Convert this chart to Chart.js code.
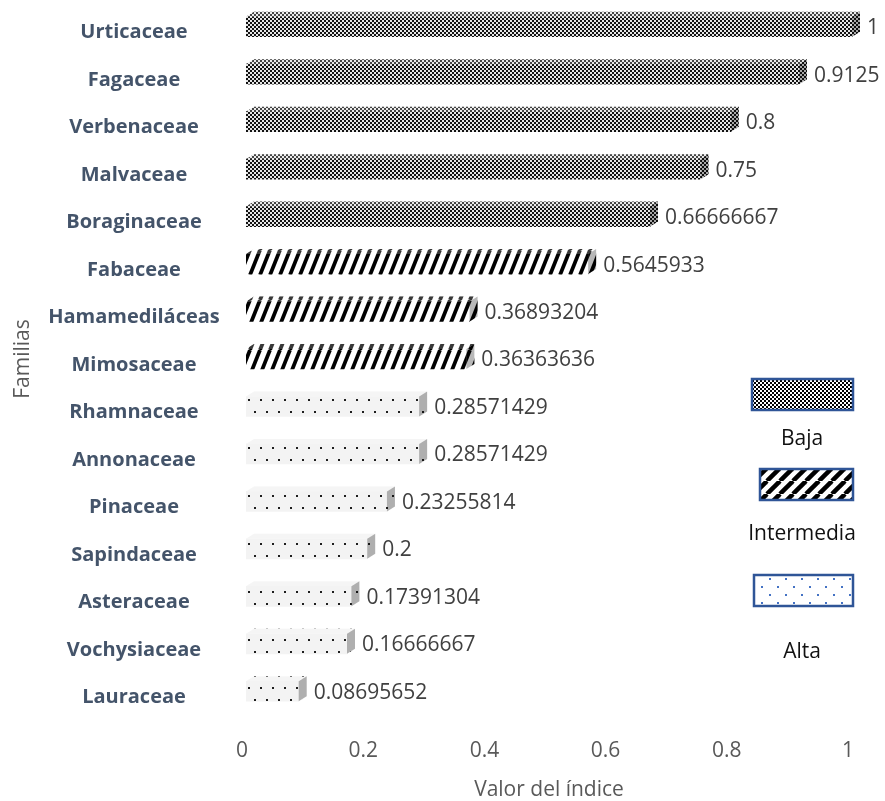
<!DOCTYPE html>
<html>
<head>
<meta charset="utf-8">
<script src="https://cdn.jsdelivr.net/npm/chart.js@4.4.1/dist/chart.umd.min.js"></script>
<style>
  html, body { margin: 0; padding: 0; background: #ffffff; }
  #wrap { width: 885px; height: 801px; }
</style>
</head>
<body>
<div id="wrap"><canvas id="c" width="885" height="801"></canvas></div>
<script>
// Familias y valor del índice
const familias = [
  'Urticaceae', 'Fagaceae', 'Verbenaceae', 'Malvaceae', 'Boraginaceae',
  'Fabaceae', 'Hamamediláceas', 'Mimosaceae', 'Rhamnaceae', 'Annonaceae',
  'Pinaceae', 'Sapindaceae', 'Asteraceae', 'Vochysiaceae', 'Lauraceae'
];
const valores = [
  1, 0.9125, 0.8, 0.75, 0.66666667,
  0.5645933, 0.36893204, 0.36363636, 0.28571429, 0.28571429,
  0.23255814, 0.2, 0.17391304, 0.16666667, 0.08695652
];
const grupos = [
  'Baja', 'Baja', 'Baja', 'Baja', 'Baja',
  'Intermedia', 'Intermedia', 'Intermedia', 'Alta', 'Alta',
  'Alta', 'Alta', 'Alta', 'Alta', 'Alta'
];
const niveles = ['Baja', 'Intermedia', 'Alta'];
const ticksX = ['0', '0.2', '0.4', '0.6', '0.8', '1'];

const canvas = document.getElementById('c');
const ctx = canvas.getContext('2d');

function tile(w, h, paint) {
  const c = document.createElement('canvas');
  c.width = w; c.height = h;
  paint(c.getContext('2d'), w, h);
  return ctx.createPattern(c, 'repeat');
}

// Rellenos de las barras
const rellenos = {
  Baja: tile(4, 4, (g) => {
    g.fillStyle = '#e6e6e6'; g.fillRect(0, 0, 4, 4);
    g.fillStyle = '#121212'; g.fillRect(0, 0, 2, 2); g.fillRect(2, 2, 2, 2);
  }),
  Intermedia: tile(10, 25, (g, w, h) => {
    g.fillStyle = '#ffffff'; g.fillRect(0, 0, w, h);
    g.strokeStyle = '#000000'; g.lineWidth = 3.8; g.lineCap = 'butt';
    for (let k = -10; k <= 10; k += 10) {
      g.beginPath(); g.moveTo(k, h); g.lineTo(k + 10, 0); g.stroke();
    }
  }),
  Alta: tile(12, 24, (g, w, h) => {
    g.fillStyle = '#f3f3f3'; g.fillRect(0, 0, w, h);
    g.fillStyle = '#1e1e1e';
    g.fillRect(2, 3, 2, 2); g.fillRect(8, 15, 2, 2);
  })
};

// Rellenos de la leyenda
const rellenosLeyenda = {
  Baja: tile(4, 4, (g) => {
    g.fillStyle = '#ffffff'; g.fillRect(0, 0, 4, 4);
    g.fillStyle = '#000000'; g.fillRect(0, 0, 2, 2); g.fillRect(2, 2, 2, 2);
  }),
  Intermedia: tile(13, 13, (g, w, h) => {
    g.fillStyle = '#ffffff'; g.fillRect(0, 0, w, h);
    g.strokeStyle = '#000000'; g.lineWidth = 4.5;
    for (let k = -13; k <= 13; k += 13) {
      g.beginPath(); g.moveTo(k, h); g.lineTo(k + 13, 0); g.stroke();
    }
  }),
  Alta: tile(16, 16, (g, w, h) => {
    g.fillStyle = '#ffffff'; g.fillRect(0, 0, w, h);
    g.fillStyle = '#4472C4';
    g.fillRect(1, 2, 2, 2); g.fillRect(9, 10, 2, 2);
  })
};

const fuenteFamilia = 'bold 20px "Open Sans"';
ctx.font = fuenteFamilia;
const anchoMax = Math.max(...familias.map(f => ctx.measureText(f).width));
const ejeIzq = 246;          // ancho del eje de categorías
const centroEtiquetas = 134; // centro horizontal de los nombres
const altoEjeX = 86;         // alto reservado para marcas y título del eje X

const profundidad = { dx: 8, dy: 5 };

// Caras superior y lateral de cada barra, y su valor
const barras3d = {
  id: 'barras3d',
  afterDatasetsDraw(chart) {
    const c = chart.ctx;
    const meta = chart.getDatasetMeta(0);
    const { dx, dy } = profundidad;
    meta.data.forEach((bar, i) => {
      const { x, y, base, height } = bar.getProps(['x', 'y', 'base', 'height'], true);
      const top = y - height / 2, bottom = y + height / 2;
      const relleno = rellenos[grupos[i]];
      c.save();
      // cara superior
      c.beginPath();
      c.moveTo(base, top); c.lineTo(base + dx, top - dy);
      c.lineTo(x + dx, top - dy); c.lineTo(x, top); c.closePath();
      c.fillStyle = relleno; c.fill();
      c.fillStyle = 'rgba(255,255,255,0.22)'; c.fill();
      // cara lateral
      c.beginPath();
      c.moveTo(x, top); c.lineTo(x + dx, top - dy);
      c.lineTo(x + dx, bottom - dy); c.lineTo(x, bottom); c.closePath();
      c.fillStyle = relleno; c.fill();
      c.fillStyle = 'rgba(0,0,0,0.28)'; c.fill();
      // valor
      c.fillStyle = '#404040';
      c.font = '21px "Open Sans"';
      c.textAlign = 'left';
      c.textBaseline = 'middle';
      c.fillText(String(valores[i]), x + dx + 7, y + 1.5);
      c.restore();
    });
  }
};

// Leyenda a la derecha
const leyenda = {
  id: 'leyendaNiveles',
  afterDraw(chart) {
    const c = chart.ctx;
    const cajas = [
      { nivel: 'Baja',       x: 752, y: 379, w: 101, h: 31, ty: 439 },
      { nivel: 'Intermedia', x: 760, y: 469, w: 93,  h: 31, ty: 534 },
      { nivel: 'Alta',       x: 754, y: 575, w: 99,  h: 31, ty: 652 }
    ];
    c.save();
    cajas.forEach(b => {
      c.fillStyle = rellenosLeyenda[b.nivel];
      c.fillRect(b.x, b.y, b.w, b.h);
      c.strokeStyle = '#2F5597';
      c.lineWidth = 2.5;
      c.strokeRect(b.x, b.y, b.w, b.h);
      c.fillStyle = '#111111';
      c.font = '21px "Open Sans"';
      c.textAlign = 'center';
      c.textBaseline = 'middle';
      c.fillText(b.nivel, 802, b.ty);
    });
    c.restore();
  }
};

new Chart(ctx, {
  type: 'bar',
  data: {
    labels: familias,
    datasets: [{
      label: 'Valor del índice',
      data: valores,
      backgroundColor: grupos.map(g => rellenos[g]),
      borderWidth: 0,
      barThickness: 20
    }]
  },
  options: {
    indexAxis: 'y',
    responsive: false,
    animation: false,
    devicePixelRatio: 1,
    layout: { padding: { left: 0, right: 33, top: 3, bottom: 0 } },
    plugins: {
      legend: { display: false },
      tooltip: { enabled: false }
    },
    scales: {
      x: {
        min: 0,
        max: 1,
        grid: { display: false, drawTicks: false },
        border: { display: false },
        afterFit: (scale) => { scale.height = altoEjeX; },
        ticks: {
          stepSize: 0.2,
          padding: 23,
          labelOffset: -4,
          maxRotation: 0,
          color: '#595959',
          font: { family: 'Open Sans', size: 21 },
          callback: (v, i) => ticksX[i]
        },
        title: {
          display: true,
          text: 'Valor del índice',
          color: '#595959',
          font: { family: 'Open Sans', size: 21, lineHeight: 1 },
          padding: { top: 16, bottom: 0 }
        }
      },
      y: {
        grid: { display: false, drawTicks: false },
        border: { display: false },
        afterFit: (scale) => {
          scale.width = ejeIzq;
          scale.paddingTop = 0;
          scale.paddingBottom = 0;
        },
        ticks: {
          crossAlign: 'center',
          padding: ejeIzq - centroEtiquetas - anchoMax / 2,
          labelOffset: 6,
          color: '#44546A',
          font: { family: 'Open Sans', size: 20, weight: 'bold' }
        },
        title: {
          display: true,
          text: 'Familias',
          color: '#595959',
          font: { family: 'Open Sans', size: 21, lineHeight: 1 },
          padding: { top: 13, bottom: 0 }
        }
      }
    }
  },
  plugins: [barras3d, leyenda]
});
</script>
</body>
</html>
